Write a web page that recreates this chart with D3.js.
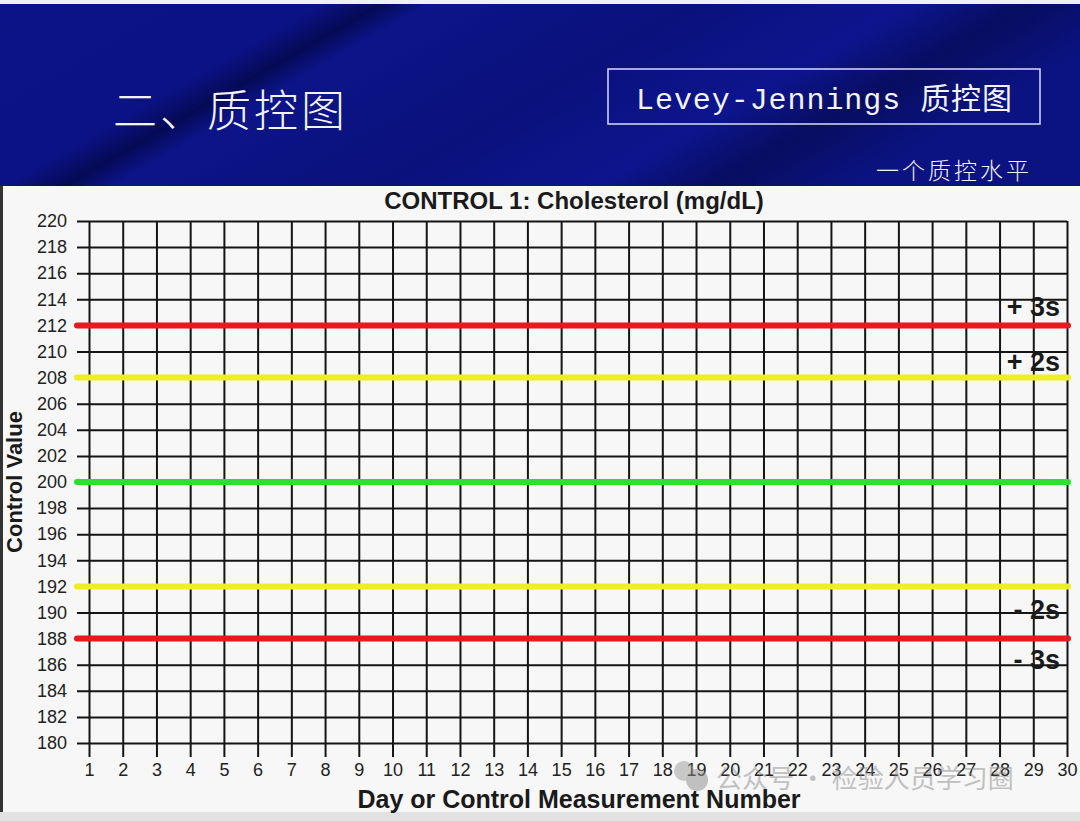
<!DOCTYPE html>
<html>
<head>
<meta charset="utf-8">
<script src="https://cdn.jsdelivr.net/npm/d3@7"></script>
<style>
  html, body { margin: 0; padding: 0; background: #f7f7f7; }
  svg { display: block; }
</style>
</head>
<body>
<div id="chart"></div>
<script>
// chart data
const days = d3.range(1, 31);
const yTicks = d3.range(180, 221, 2);
const yTickLabels = yTicks.map(String);

const controlLimits = [
    { name: "+3s", value: 212, color: "#e61a1a", label: "+ 3s", dy: -9 },
    { name: "+2s", value: 208, color: "#eeee22", label: "+ 2s", dy: -7 },
    { name: "mean", value: 200, color: "#2ee02e", label: "", dy: 0 },
    { name: "-2s", value: 192, color: "#eeee22", label: "- 2s", dy: 33 },
    { name: "-3s", value: 188, color: "#e61a1a", label: "- 3s", dy: 30 }
];

const width = 1080;
const height = 821;

const svg = d3.select("#chart").append("svg")
    .attr("width", width)
    .attr("height", height);

// --- slide banner ---
const defs = svg.append("defs");
const grad = defs.append("linearGradient")
    .attr("id", "banner")
    .attr("x1", "0%").attr("y1", "0%")
    .attr("x2", "100%").attr("y2", "30%");
[
    ["0%", "#0c1388"], ["28%", "#0b1284"], ["33%", "#050a55"], ["37%", "#0c1488"],
    ["60%", "#0a117c"], ["78%", "#0d158e"], ["88%", "#070d60"], ["100%", "#0b1382"]
].forEach(s => grad.append("stop").attr("offset", s[0]).attr("stop-color", s[1]));

svg.append("rect")
    .attr("x", 0).attr("y", 0)
    .attr("width", width).attr("height", 186)
    .attr("fill", "url(#banner)");
svg.append("rect")
    .attr("x", 0).attr("y", 0)
    .attr("width", width).attr("height", 4)
    .attr("fill", "#eef0f6");

svg.append("text")
    .attr("x", 113).attr("y", 127)
    .attr("fill", "#f2f2f8")
    .attr("font-family", "Noto Sans CJK SC")
    .attr("font-weight", 300)
    .attr("font-size", 44)
    .attr("letter-spacing", 3)
    .text("二、质控图");

svg.append("rect")
    .attr("x", 608).attr("y", 69)
    .attr("width", 432).attr("height", 55)
    .attr("fill", "none")
    .attr("stroke", "#d8dcf4")
    .attr("stroke-width", 1.5);

svg.append("text")
    .attr("x", 636).attr("y", 109)
    .attr("fill", "#f2f2f8")
    .attr("font-family", "Liberation Mono, Noto Sans CJK SC")
    .attr("font-size", 30)
    .attr("textLength", 376)
    .text("Levey-Jennings 质控图");

svg.append("text")
    .attr("x", 876).attr("y", 179)
    .attr("fill", "#f2f2f8")
    .attr("font-family", "Noto Sans CJK SC")
    .attr("font-weight", 300)
    .attr("font-size", 23)
    .attr("letter-spacing", 3)
    .text("一个质控水平");

// left edge line + bottom band of the slide
svg.append("rect")
    .attr("x", 0).attr("y", 186)
    .attr("width", 3).attr("height", 626)
    .attr("fill", "#333");
svg.append("rect")
    .attr("x", 0).attr("y", 812)
    .attr("width", width).attr("height", 9)
    .attr("fill", "#e2e2e2");

// --- chart ---
const x = d3.scaleLinear()
    .domain([1, 30])
    .range([89, 1067]);

const y = d3.scaleLinear()
    .domain([180, 220])
    .range([743, 221]);

const gridColor = "#151515";
const tickFont = "Liberation Sans, Arial, sans-serif";

// horizontal grid lines with labels on the left
const yAxis = svg.append("g")
    .attr("transform", `translate(${x(30)},0)`)
    .call(d3.axisLeft(y)
        .tickValues(yTicks)
        .tickFormat((d, i) => yTickLabels[i])
        .tickSize(x(30) - 77)
        .tickPadding(10));

yAxis.select(".domain").remove();
yAxis.selectAll("line")
    .attr("stroke", gridColor)
    .attr("stroke-width", 2);
yAxis.selectAll("text")
    .attr("font-family", tickFont)
    .attr("font-size", 18)
    .attr("fill", "#222");

// vertical grid lines with day numbers below
const xAxis = svg.append("g")
    .attr("transform", `translate(0,${y(220)})`)
    .call(d3.axisBottom(x)
        .tickValues(days)
        .tickFormat(d3.format("d"))
        .tickSize(757 - y(220))
        .tickPadding(6));

xAxis.select(".domain").remove();
xAxis.selectAll("line")
    .attr("stroke", gridColor)
    .attr("stroke-width", 2);
xAxis.selectAll("text")
    .attr("font-family", tickFont)
    .attr("font-size", 18)
    .attr("fill", "#222");

// mean and control limit lines
svg.append("g")
    .selectAll("line")
    .data(controlLimits)
    .join("line")
    .attr("x1", 77)
    .attr("x2", x(30) + 1)
    .attr("y1", d => y(d.value))
    .attr("y2", d => y(d.value))
    .attr("stroke", d => d.color)
    .attr("stroke-width", 6)
    .attr("stroke-linecap", "round");

svg.append("g")
    .selectAll("text")
    .data(controlLimits.filter(d => d.label))
    .join("text")
    .attr("x", 1060)
    .attr("y", d => y(d.value) + d.dy)
    .attr("text-anchor", "end")
    .attr("font-family", "Liberation Sans, Arial, sans-serif")
    .attr("font-weight", "bold")
    .attr("font-size", 27)
    .attr("fill", "#1a1a1a")
    .text(d => d.label);

// titles
svg.append("text")
    .attr("x", 574).attr("y", 209)
    .attr("text-anchor", "middle")
    .attr("font-family", "Liberation Sans, Arial, sans-serif")
    .attr("font-weight", "bold")
    .attr("font-size", 24)
    .attr("fill", "#1a1a1a")
    .text("CONTROL 1: Cholesterol (mg/dL)");

svg.append("text")
    .attr("transform", "translate(22,482) rotate(-90)")
    .attr("text-anchor", "middle")
    .attr("font-family", "Liberation Sans, Arial, sans-serif")
    .attr("font-weight", "bold")
    .attr("font-size", 22)
    .attr("fill", "#1a1a1a")
    .text("Control Value");

svg.append("text")
    .attr("x", 579).attr("y", 808)
    .attr("text-anchor", "middle")
    .attr("font-family", "Liberation Sans, Arial, sans-serif")
    .attr("font-weight", "bold")
    .attr("font-size", 25)
    .attr("fill", "#1a1a1a")
    .text("Day or Control Measurement Number");

// watermark
const wm = svg.append("g").attr("opacity", 0.5);
wm.append("circle").attr("cx", 684).attr("cy", 771).attr("r", 10).attr("fill", "#9a9a9a");
wm.append("circle").attr("cx", 697).attr("cy", 780).attr("r", 11).attr("fill", "#8a8a8a");
wm.append("text")
    .attr("x", 716).attr("y", 788)
    .attr("font-family", "Noto Sans CJK SC")
    .attr("font-size", 26)
    .attr("fill", "#8a8a8a")
    .text("公众号 · 检验人员学习圈");
</script>
</body>
</html>
